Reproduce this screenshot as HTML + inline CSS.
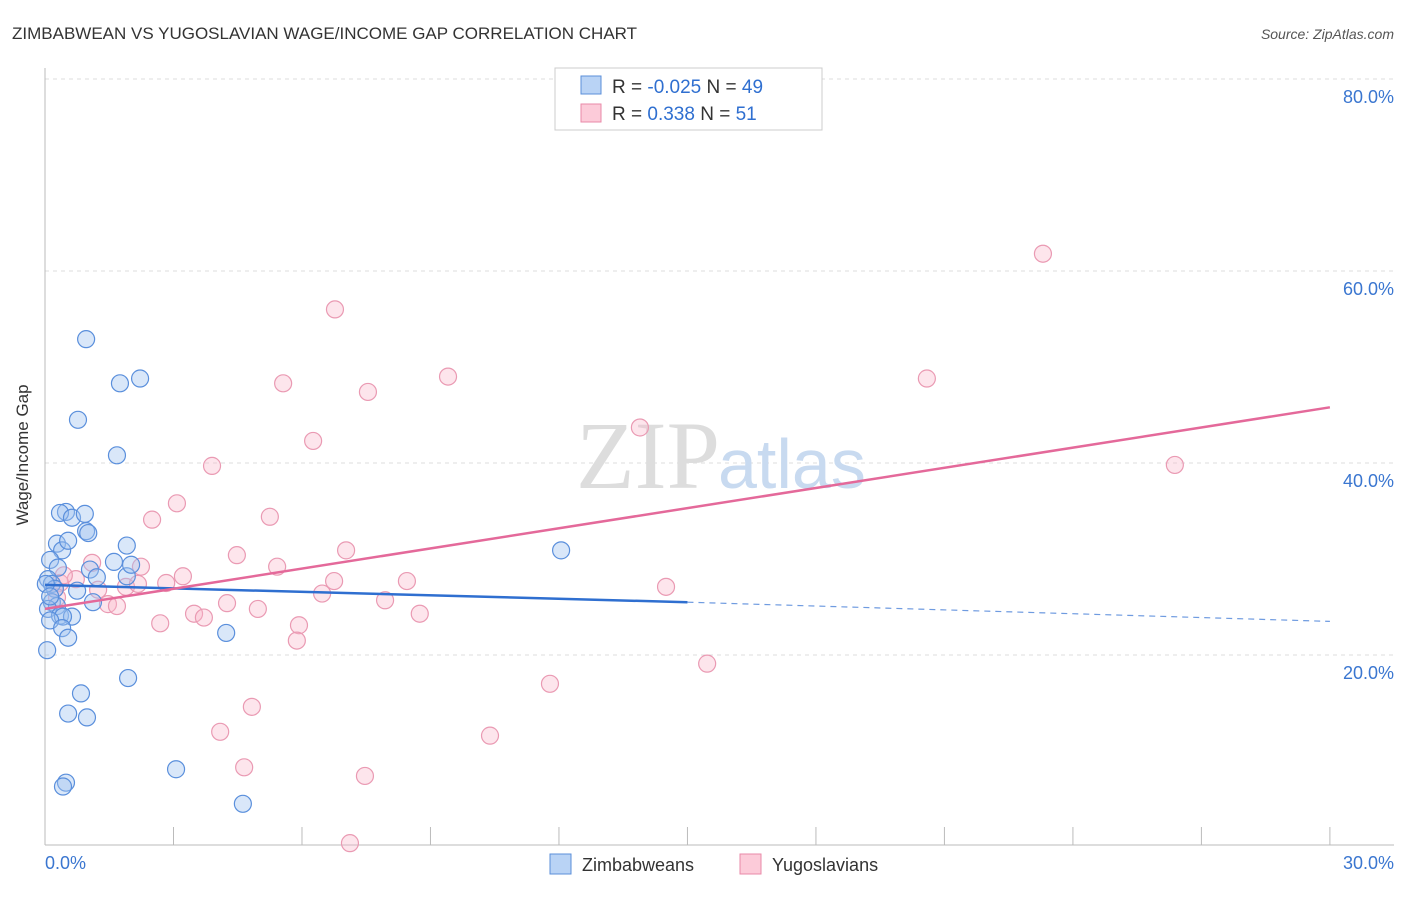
<!DOCTYPE html>
<html><head><meta charset="utf-8"><style>
body{margin:0;background:#fff;font-family:"Liberation Sans",sans-serif;}
</style></head><body>
<svg width="1406" height="892" xmlns="http://www.w3.org/2000/svg">
<text x="12" y="39" font-size="17" fill="#333">ZIMBABWEAN VS YUGOSLAVIAN WAGE/INCOME GAP CORRELATION CHART</text>
<text x="1394" y="39" font-size="14" fill="#555" font-style="italic" text-anchor="end">Source: ZipAtlas.com</text>
<g id="grid"></g>
<line x1="45" y1="68" x2="45" y2="845" stroke="#bbb"/>
<line x1="45" y1="845" x2="1394" y2="845" stroke="#bbb"/>
<text x="28" y="455" font-size="17" fill="#333" transform="rotate(-90 28 455)" text-anchor="middle">Wage/Income Gap</text>
<text x="720" y="488" font-size="96" fill="#ddd" text-anchor="end" font-family="Liberation Serif">ZIP</text>
<text x="718" y="488" font-size="70" fill="#c8daf0">atlas</text>
<g id="pts"></g>
<g id="trend"></g>
<rect x="555" y="68" width="267" height="62" fill="#fff" stroke="#ccc"/>
<rect x="581" y="76" width="20" height="18" fill="#b9d3f5" stroke="#5b8fd9"/>
<rect x="581" y="104" width="20" height="18" fill="#fccbd9" stroke="#e98aa8"/>
<text x="612" y="93" font-size="19" fill="#333">R = <tspan fill="#2f6fd0">-0.025</tspan>   N = <tspan fill="#2f6fd0">49</tspan></text>
<text x="612" y="120" font-size="19" fill="#333">R =  <tspan fill="#2f6fd0"> 0.338</tspan>   N = <tspan fill="#2f6fd0"> 51</tspan></text>
<text x="45" y="869" font-size="18" fill="#3a76d0">0.0%</text>
<text x="1394" y="869" font-size="18" fill="#3a76d0" text-anchor="end">30.0%</text>
<rect x="550" y="854" width="21" height="20" fill="#b9d3f5" stroke="#5b8fd9"/>
<text x="582" y="871" font-size="18" fill="#333">Zimbabweans</text>
<rect x="740" y="854" width="21" height="20" fill="#fccbd9" stroke="#e98aa8"/>
<text x="772" y="871" font-size="18" fill="#333">Yugoslavians</text>
</svg>
<script>
const yTicks=[20,40,60,80];
const xTicks=[3,6,9,12,15,18,21,24,27,30];
const blueX=[0.96,1.75,2.22,0.77,1.68,0.49,0.35,0.63,0.93,0.96,1.01,0.28,0.40,0.54,1.91,0.12,0.30,1.05,1.21,1.91,2.01,1.61,0.07,0.16,0.23,0.75,1.12,0.16,0.28,0.07,0.35,0.63,0.42,0.12,0.40,0.54,0.05,4.23,1.94,0.84,0.54,0.98,3.06,0.49,0.42,4.62,12.05,0.02,0.12];
const blueY=[52.9,48.3,48.8,44.5,40.8,34.9,34.8,34.3,34.7,32.9,32.7,31.6,30.9,31.9,31.4,29.9,29.1,28.9,28.1,28.2,29.4,29.7,27.9,27.4,26.9,26.7,25.5,25.5,25.1,24.8,24.1,24.0,24.0,23.6,22.8,21.8,20.5,22.3,17.6,16.0,13.9,13.5,8.1,6.7,6.3,4.5,30.9,27.4,26.1];
const pinkX=[23.30,6.77,5.56,7.54,9.41,20.59,13.89,6.26,26.38,3.90,3.08,2.50,5.25,4.48,7.03,1.10,2.24,3.22,5.42,2.83,1.89,2.17,6.75,8.45,1.24,0.72,0.35,0.44,0.23,0.28,1.47,1.68,4.25,4.97,6.47,7.94,3.48,3.71,2.69,8.75,5.93,5.88,14.50,15.46,11.79,4.83,4.09,10.39,4.65,7.47,7.12];
const pinkY=[61.8,56.0,48.3,47.4,49.0,48.8,43.7,42.3,39.8,39.7,35.8,34.1,34.4,30.4,30.9,29.6,29.2,28.2,29.2,27.5,27.1,27.4,27.7,27.7,26.8,27.9,27.5,28.3,26.9,26.0,25.3,25.1,25.4,24.8,26.4,25.7,24.3,23.9,23.3,24.3,23.1,21.5,27.1,19.1,17.0,14.6,12.0,11.6,8.3,7.4,0.4];
const blueLine=[[0,27.3],[15,25.5],[30,23.5]];
const pinkLine=[[0,24.8],[30,45.8]];
const NS='http://www.w3.org/2000/svg';
const X=v=>45+v*42.83, Y=v=>847-v*9.6;
const grid=document.getElementById('grid');
yTicks.forEach(t=>{const l=document.createElementNS(NS,'line');l.setAttribute('x1',45);l.setAttribute('x2',1394);l.setAttribute('y1',Y(t));l.setAttribute('y2',Y(t));l.setAttribute('stroke','#ddd');l.setAttribute('stroke-dasharray','4 4');


grid.appendChild(l);
const tx=document.createElementNS(NS,'text');tx.setAttribute('x',1394);tx.setAttribute('y',Y(t)+24);tx.setAttribute('text-anchor','end');tx.setAttribute('font-size','18');tx.setAttribute('fill','#3a76d0');tx.textContent=t.toFixed(1)+'%';


grid.appendChild(tx);});
xTicks.forEach(t=>{const l=document.createElementNS(NS,'line');l.setAttribute('x1',X(t));l.setAttribute('x2',X(t));l.setAttribute('y1',827);l.setAttribute('y2',845);l.setAttribute('stroke','#bbb');


grid.appendChild(l);});
const pts=document.getElementById('pts');
function dots(xs,ys,fill,stroke,name){xs.forEach((x,i)=>{const c=document.createElementNS(NS,'circle');c.setAttribute('cx',X(x));c.setAttribute('cy',Y(ys[i]));c.setAttribute('r',8.5);c.setAttribute('fill',fill);c.setAttribute('stroke',stroke);c.setAttribute('stroke-width','1.2');


pts.appendChild(c);});}
dots(pinkX,pinkY,'rgba(248,180,200,0.35)','#ea9ab3','yugoslavian-point');
dots(blueX,blueY,'rgba(160,196,240,0.4)','#5a8fdc','zimbabwean-point');
const tr=document.getElementById('trend');
function line(a,b,col,dash,name){const l=document.createElementNS(NS,'line');l.setAttribute('x1',X(a[0]));l.setAttribute('y1',Y(a[1]));l.setAttribute('x2',X(b[0]));l.setAttribute('y2',Y(b[1]));l.setAttribute('stroke',col);l.setAttribute('stroke-width',dash?1.2:2.5);if(dash)l.setAttribute('stroke-dasharray','6 5');


tr.appendChild(l);}
line(blueLine[0],blueLine[1],'#2f6fd0',false,'zimbabwean-trend-line');
line(blueLine[1],blueLine[2],'#6f9be0',true,'zimbabwean-trend-extension');
line(pinkLine[0],pinkLine[1],'#e4699a',false,'yugoslavian-trend-line');
</script>
</body></html>
